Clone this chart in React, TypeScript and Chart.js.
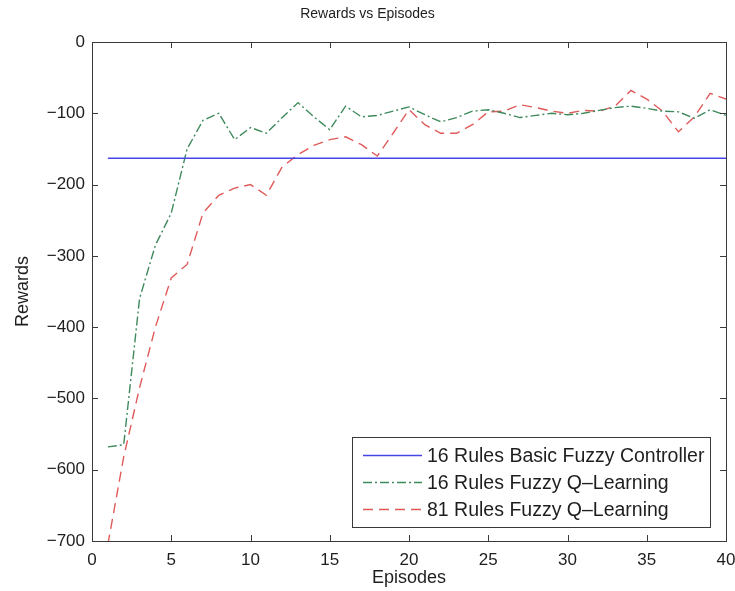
import React, { useEffect, useRef } from 'react';
import { Chart, registerables } from 'chart.js';

Chart.register(...registerables);

// ---------- data ----------
const episodes = [1, 2, 3, 4, 5, 6, 7, 8, 9, 10, 11, 12, 13, 14, 15, 16, 17, 18, 19, 20,
  21, 22, 23, 24, 25, 26, 27, 28, 29, 30, 31, 32, 33, 34, 35, 36, 37, 38, 39, 40];

const basicFuzzy16 = [-163, -163, -163, -163, -163, -163, -163, -163, -163, -163,
  -163, -163, -163, -163, -163, -163, -163, -163, -163, -163,
  -163, -163, -163, -163, -163, -163, -163, -163, -163, -163,
  -163, -163, -163, -163, -163, -163, -163, -163, -163, -163];

const fuzzyQL16 = [-568, -565, -360, -285, -240, -150, -110, -100, -137, -120,
  -128, -106, -85, -105, -123, -90, -105, -103, -97, -91,
  -102, -112, -106, -97, -95, -100, -106, -103, -100, -102,
  -100, -96, -92, -90, -93, -97, -98, -107, -95, -103];

const fuzzyQL81 = [-705, -582, -485, -400, -331, -312, -240, -215, -205, -200,
  -215, -175, -158, -145, -137, -133, -144, -160, -128, -95,
  -116, -128, -128, -116, -98, -97, -88, -92, -97, -100,
  -96, -97, -90, -68, -80, -97, -126, -105, -72, -80];

const seriesLabels = [
  '16 Rules Basic Fuzzy Controller',
  '16 Rules Fuzzy Q\u2013Learning',
  '81 Rules Fuzzy Q\u2013Learning',
];

const xMin = 0, xMax = 40, xStep = 5;
const yMin = -700, yMax = 0, yStep = 100;

const chartTitle = 'Rewards vs Episodes';
const xTitle = 'Episodes';
const yTitle = 'Rewards';

// ---------- styling ----------
const FONT = '"Liberation Sans", Arial, Helvetica, sans-serif';
const AXIS_COLOR = '#3a3a3a';
const TEXT_COLOR = '#1e1e1e';

const matlabAxes = {
  id: 'matlabAxes',
  afterDatasetsDraw(chart: any) {
    const { ctx, chartArea, scales } = chart;
    const { left, right, top, bottom } = chartArea;
    const xs = scales.x, ys = scales.y;
    const tl = 6;
    ctx.save();
    ctx.strokeStyle = AXIS_COLOR;
    ctx.lineWidth = 1;
    ctx.setLineDash([]);
    ctx.strokeRect(Math.round(left) + 0.5, Math.round(top) + 0.5,
      Math.round(right - left), Math.round(bottom - top));
    ctx.beginPath();
    xs.ticks.forEach((t: any) => {
      const px = Math.round(xs.getPixelForValue(t.value)) + 0.5;
      ctx.moveTo(px, bottom); ctx.lineTo(px, bottom - tl);
      ctx.moveTo(px, top); ctx.lineTo(px, top + tl);
    });
    ys.ticks.forEach((t: any) => {
      const py = Math.round(ys.getPixelForValue(t.value)) + 0.5;
      ctx.moveTo(left, py); ctx.lineTo(left + tl, py);
      ctx.moveTo(right, py); ctx.lineTo(right - tl, py);
    });
    ctx.stroke();
    ctx.restore();
  },
};

const boxLegend = {
  id: 'boxLegend',
  afterDraw(chart: any) {
    const { ctx, chartArea } = chart;
    const w = 358, h = 90;
    const x0 = Math.round(chartArea.right - 16 - w);
    const y0 = Math.round(chartArea.bottom - 14 - h);
    ctx.save();
    ctx.fillStyle = '#ffffff';
    ctx.fillRect(x0, y0, w, h);
    ctx.strokeStyle = AXIS_COLOR;
    ctx.lineWidth = 1;
    ctx.setLineDash([]);
    ctx.strokeRect(x0 + 0.5, y0 + 0.5, w, h);
    chart.data.datasets.forEach((ds: any, i: number) => {
      const y = y0 + 18.5 + i * 27;
      ctx.strokeStyle = ds.borderColor;
      ctx.lineWidth = ds.borderWidth;
      ctx.setLineDash(ds.borderDash || []);
      ctx.beginPath();
      ctx.moveTo(x0 + 11, y);
      ctx.lineTo(x0 + 70, y);
      ctx.stroke();
      ctx.setLineDash([]);
      ctx.fillStyle = TEXT_COLOR;
      ctx.font = `19.5px ${FONT}`;
      ctx.textBaseline = 'middle';
      ctx.textAlign = 'left';
      ctx.fillText(ds.label, x0 + 75, y + 1);
    });
    ctx.restore();
  },
};

function toPoints(values: number[]) {
  return episodes.map((e, i) => ({ x: e, y: values[i] }));
}

export default function App() {
  const canvasRef = useRef<HTMLCanvasElement | null>(null);

  useEffect(() => {
    const canvas = canvasRef.current;
    if (!canvas) return;
    const chart = new Chart(canvas, {
      type: 'line',
      data: {
        datasets: [
          {
            label: seriesLabels[0],
            data: toPoints(basicFuzzy16),
            borderColor: '#4646e6',
            borderWidth: 1.4,
            pointRadius: 0,
            tension: 0,
            fill: false,
          },
          {
            label: seriesLabels[1],
            data: toPoints(fuzzyQL16),
            borderColor: '#3f8a5c',
            borderWidth: 1.4,
            borderDash: [9, 3, 2, 3],
            pointRadius: 0,
            tension: 0,
            fill: false,
          },
          {
            label: seriesLabels[2],
            data: toPoints(fuzzyQL81),
            borderColor: '#e05a5a',
            borderWidth: 1.4,
            borderDash: [10, 6],
            pointRadius: 0,
            tension: 0,
            fill: false,
          },
        ],
      },
      options: {
        responsive: false,
        animation: false,
        devicePixelRatio: 1,
        layout: { padding: { left: 0, right: 0, top: 0, bottom: 0 } },
        plugins: {
          legend: { display: false },
          tooltip: { enabled: false },
          title: {
            display: true,
            text: chartTitle,
            color: TEXT_COLOR,
            font: { family: FONT, size: 14, weight: 'normal' },
            padding: { top: 6, bottom: 19.2 },
          },
        },
        scales: {
          x: {
            type: 'linear',
            min: xMin,
            max: xMax,
            grid: { display: false, drawTicks: false },
            border: { display: false },
            ticks: {
              stepSize: xStep,
              autoSkip: false,
              maxRotation: 0,
              padding: 9,
              color: TEXT_COLOR,
              font: { family: FONT, size: 17 },
            },
            title: {
              display: true,
              text: xTitle,
              color: TEXT_COLOR,
              font: { family: FONT, size: 18 },
              padding: { top: 0, bottom: 2 },
            },
            afterFit(scale: any) {
              scale.height = 50;
              scale.paddingRight = 9;
              scale.paddingLeft = 0;
            },
          },
          y: {
            type: 'linear',
            min: yMin,
            max: yMax,
            grid: { display: false, drawTicks: false },
            border: { display: false },
            ticks: {
              stepSize: yStep,
              autoSkip: false,
              padding: 7,
              color: TEXT_COLOR,
              font: { family: FONT, size: 17 },
              callback: (v: any) => (Number(v) < 0 ? '\u2212' + Math.abs(Number(v)) : String(v)),
            },
            title: {
              display: true,
              text: yTitle,
              color: TEXT_COLOR,
              font: { family: FONT, size: 18 },
              padding: { top: 12, bottom: 0 },
            },
            afterFit(scale: any) { scale.width = 92; },
          },
        },
      },
      plugins: [matlabAxes, boxLegend],
    } as any);
    return () => chart.destroy();
  }, []);

  return (
    <div style={{ position: 'fixed', left: 0, top: 0, width: 735, height: 591, background: '#fff' }}>
      <canvas ref={canvasRef} width={735} height={591} style={{ display: 'block' }} />
    </div>
  );
}
